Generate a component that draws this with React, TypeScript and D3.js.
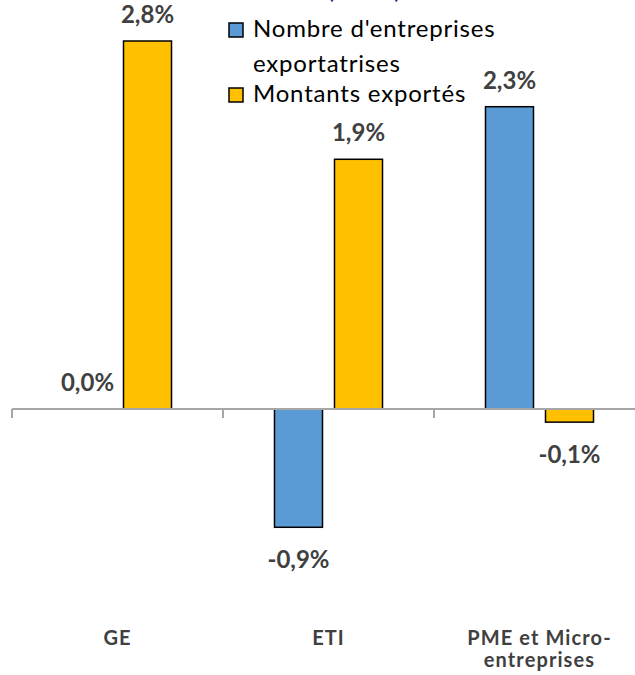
import React from "react";
import * as d3 from "d3";

const categories = ["GE", "ETI", "PME et Micro-\nentreprises"];
const series = ["Nombre d'entreprises exportatrises", "Montants exportés"];
const nombre = [0.0, -0.9, 2.3];
const montants = [2.8, 1.9, -0.1];
const colors = ["#5b9bd5", "#ffc000"];

const W = 635;
const H = 675;
const FONT = "Lato, 'Open Sans', sans-serif";

export default function App() {
  const x = d3.scaleBand<string>().domain(categories).range([12, 645]).paddingInner(0).paddingOuter(0);
  const xi = d3.scaleBand<string>().domain(series).range([0, x.bandwidth()]).paddingInner(0.2).paddingOuter(0.858);
  const y = d3.scaleLinear().domain([0, 2.8]).range([409, 41]);
  const fmt = (v: number) => v.toFixed(1).replace(".", ",") + "%";
  const values = [nombre, montants];
  const y0 = y(0);

  return (
    <svg width={W} height={H} style={{ position: "absolute", left: 0, top: 0, background: "#fff" }} fontFamily={FONT}>
      <rect x={0} y={0} width={W} height={H} fill="#fff" />
      {/* cut-off title */}
      <text x={364} y={-2} textAnchor="middle" fontSize={26} fill="#1f1fa0">(2019)</text>

      {/* bars */}
      {values.map((vals, si) =>
        vals.map((v, ci) => {
          if (v === 0) return null;
          const bx = (x(categories[ci]) as number) + (xi(series[si]) as number);
          const top = Math.min(y(v), y0);
          const h = Math.abs(y(v) - y0);
          return (
            <rect key={`b${si}-${ci}`} x={bx} y={top} width={xi.bandwidth()} height={h}
              fill={colors[si]} stroke="#000" strokeWidth={1.5} />
          );
        })
      )}

      {/* axis */}
      <line x1={12} x2={W} y1={y0} y2={y0} stroke="#a6a6a6" strokeWidth={2} />
      {categories.map((c, i) => (
        <line key={`t${i}`} x1={x(c) as number} x2={x(c) as number} y1={y0} y2={y0 + 9} stroke="#a6a6a6" strokeWidth={2} />
      ))}

      {/* data labels */}
      {values.map((vals, si) =>
        vals.map((v, ci) => {
          const cx = (x(categories[ci]) as number) + (xi(series[si]) as number) + xi.bandwidth() / 2;
          const ty = v >= 0 ? y(v) - 18 : y(v) + 41;
          return (
            <text key={`l${si}-${ci}`} x={cx} y={ty} textAnchor="middle" fontSize={24} fontWeight="bold" fill="#404040">
              {fmt(v)}
            </text>
          );
        })
      )}

      {/* category labels */}
      {categories.map((c, i) => {
        const cx = (x(c) as number) + x.bandwidth() / 2;
        return (
          <text key={`c${i}`} x={cx} y={645} textAnchor="middle" fontSize={20} fontWeight="bold" fill="#404040" letterSpacing={1.1}>
            {c.split("\n").map((line, li) => (
              <tspan key={li} x={cx} dy={li === 0 ? 0 : 22}>{line}</tspan>
            ))}
          </text>
        );
      })}

      {/* legend */}
      <rect x={229} y={23} width={14} height={14} fill={colors[0]} stroke="#000" strokeWidth={1.5} />
      <text x={253} y={37} fontSize={24} fill="#000" letterSpacing={0.8}>
        <tspan x={253}>Nombre d'entreprises</tspan>
        <tspan x={253} dy={35}>exportatrises</tspan>
      </text>
      <rect x={229} y={88} width={14} height={14} fill={colors[1]} stroke="#000" strokeWidth={1.5} />
      <text x={253} y={102} fontSize={24} fill="#000" letterSpacing={0.8}>{series[1]}</text>
    </svg>
  );
}
